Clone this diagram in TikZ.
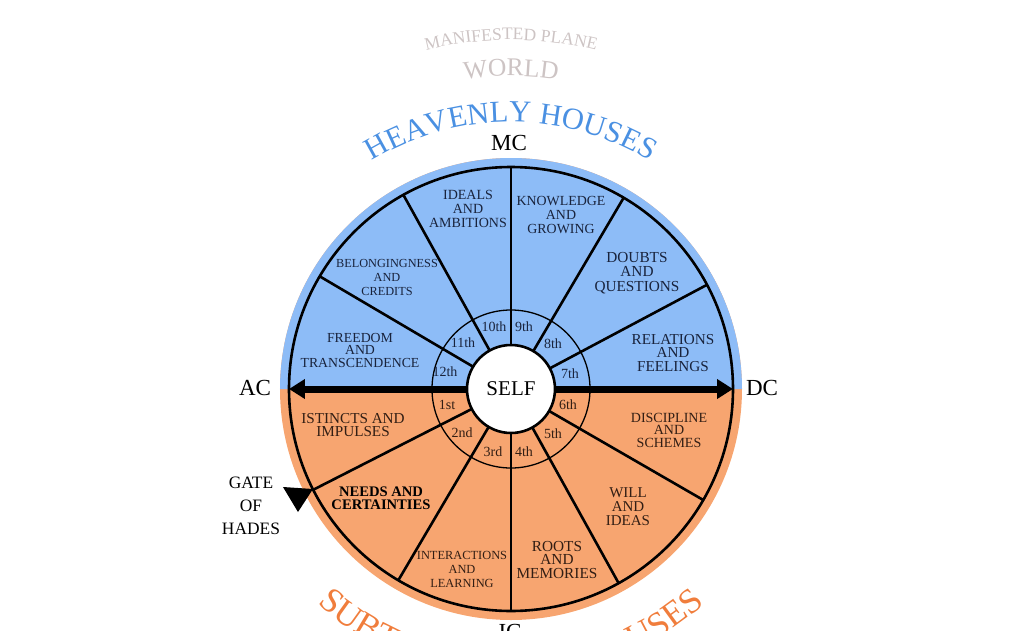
\documentclass[tikz,border=0pt]{standalone}
\usepackage{fontspec}
\setmainfont{Liberation Serif}
\usetikzlibrary{arrows.meta,decorations.text}
\definecolor{skyfill}{RGB}{141,188,247}
\definecolor{orfill}{RGB}{247,165,112}
\definecolor{skytext}{RGB}{74,144,226}
\definecolor{ortext}{RGB}{240,125,60}
\definecolor{graytext}{RGB}{205,196,196}
\definecolor{uptext}{RGB}{25,35,60}
\definecolor{lowtext}{RGB}{50,30,20}
\newcommand{\fs}[2]{\fontsize{#1}{#2}\selectfont}
\begin{document}
\begin{tikzpicture}[x=1pt,y=1pt,
  spoke/.style={line width=2.6pt},
  lab/.style={align=center, inner sep=0pt},
  hnum/.style={inner sep=0pt, font=\fs{14}{14}},
  cardinal/.style={font=\fs{23}{23}, inner sep=0pt},
  bigarrow/.style={line width=7pt, -{Triangle[length=16pt,width=19pt]}},
  arctext/.style={decorate, decoration={text along path, text align=center, text color=#1}}]
\useasboundingbox (-511,-241) rectangle (513,389);
% disk
\fill[orfill] (0,0) circle (231);
\fill[skyfill] (231,0) arc (0:180:231) -- cycle;
\draw[line width=1.3pt] (0,0) circle (79);
\foreach \a in {28,59.5,90,119,149.5,207,239.5,270,299,330}
  \draw[spoke] (\a:44) -- (\a:222);
\draw[line width=2.6pt] (0,0) circle (222);
\coordinate (acpt) at (180:222);
\coordinate (dcpt) at (0:222);
\node[circle, draw, line width=2.6pt, fill=white, minimum size=88pt, inner sep=0pt, font=\fs{21}{21}] (self) at (0,0) {SELF};
\draw[bigarrow] (self) -- (acpt);
\draw[bigarrow] (self) -- (dcpt);
% cardinal labels
\node[cardinal] (mc) at (-2,246) {MC};
\node[cardinal] (ac) at (-256,1) {AC};
\node[cardinal] (dc) at (251,1) {DC};
\node[cardinal] (ic) at (-1,-243) {IC};
% house numbers
\begin{scope}[every node/.append style={hnum, text=uptext}]
\node (h10) at (-17,62) {10th};
\node (h9) at (13,62) {9th};
\node (h8) at (42,45) {8th};
\node (h11) at (-48,46) {11th};
\node (h12) at (-66,17) {12th};
\node (h7) at (59,15) {7th};
\end{scope}
\begin{scope}[every node/.append style={hnum, text=lowtext}]
\node (h1) at (-64,-16) {1st};
\node (h6) at (57,-16) {6th};
\node (h2) at (-49,-44) {2nd};
\node (h5) at (42,-45) {5th};
\node (h3) at (-18,-63) {3rd};
\node (h4) at (13,-63) {4th};
\end{scope}
% sector labels
\node[lab, text=uptext, font=\fs{14}{14}] (ideals) at (-43,180) {IDEALS\\AND\\AMBITIONS};
\node[lab, text=uptext, font=\fs{12.3}{14}] (belong) at (-124,112) {BELONGINGNESS\\AND\\CREDITS};
\node[lab, text=uptext, font=\fs{13.8}{12.5}] (freedom) at (-151,39) {FREEDOM\\AND\\TRANSCENDENCE};
\node[lab, text=uptext, font=\fs{13.9}{14}] (know) at (50,174) {KNOWLEDGE\\AND\\GROWING};
\node[lab, text=uptext, font=\fs{15.3}{14.5}] (doubts) at (126,116) {DOUBTS\\AND\\QUESTIONS};
\node[lab, text=uptext, font=\fs{15.2}{13.5}] (relations) at (162,36) {RELATIONS\\AND\\FEELINGS};
\node[lab, text=lowtext, font=\fs{15.2}{13.5}] (istincts) at (-158,-36) {ISTINCTS AND\\IMPULSES};
\node[lab, text=black, font=\fs{14.6}{13}\bfseries] (needs) at (-130,-109) {NEEDS AND\\CERTAINTIES};
\node[lab, text=lowtext, font=\fs{12.4}{14}] (inter) at (-49,-180) {INTERACTIONS\\AND\\LEARNING};
\node[lab, text=lowtext, font=\fs{15.3}{13.5}] (roots) at (46,-171) {ROOTS\\AND\\MEMORIES};
\node[lab, text=lowtext, font=\fs{15}{14}] (will) at (117,-118) {WILL\\AND\\IDEAS};
\node[lab, text=lowtext, font=\fs{14}{12.5}] (disc) at (158,-41) {DISCIPLINE\\AND\\SCHEMES};
% gate of hades
\node[lab, font=\fs{17.4}{23}] (gate) at (-260,-117) {GATE\\OF\\HADES};
\fill (-228,-98) -- (-198,-100) -- (-213,-123) -- cycle;
% arched texts
\path[arctext=skytext, decoration={text={|\fs{30.5}{30.5}|HEAVENLY HOUSES}}] (160:267) arc (160:20:267);
\path[arctext=ortext, decoration={text={|\fs{35}{35}|SUBTERRANEAN HOUSES}}] (200:289) arc (200:340:289);
\path[arctext=graytext, decoration={text={|\fs{17.5}{17.5}|MANIFESTED PLANE}}] (160:349) arc (160:20:349);
\path[arctext=graytext, decoration={text={|\fs{25.5}{25.5}|WORLD}}] (160:313) arc (160:20:313);
\end{tikzpicture}
\end{document}
